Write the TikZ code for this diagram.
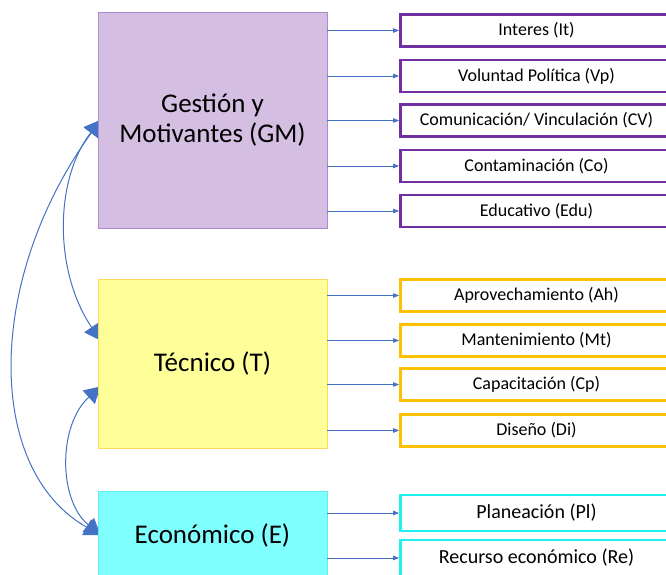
\documentclass[tikz,border=0pt]{standalone}
\usepackage{fontspec}
\setmainfont{Carlito}
\usetikzlibrary{arrows.meta}
\definecolor{conn}{HTML}{4472C4}
\definecolor{gmfill}{HTML}{D4BFE3}
\definecolor{gmline}{HTML}{B08AD0}
\definecolor{tfill}{HTML}{FFFF99}
\definecolor{tline}{HTML}{FFD85C}
\definecolor{efill}{HTML}{80FFFF}
\definecolor{eline}{HTML}{5EF0F0}
\definecolor{purp}{HTML}{7030A0}
\definecolor{oran}{HTML}{FFC000}
\definecolor{cyanb}{HTML}{20F0F0}
\pgfdeclarelayer{bg}
\pgfsetlayers{bg,main}
\begin{document}
\begin{tikzpicture}[x=1pt,y=-1pt,
  bigbox/.style={rectangle, minimum width=229pt, align=center, inner sep=0pt, line width=0.8pt,
    font=\fontsize{27}{29.5}\selectfont},
  subbox/.style={rectangle, minimum width=272pt, minimum height=32pt, line width=2.8pt, fill=white,
    inner sep=0pt, font=\fontsize{18}{21}\selectfont},
  ebox/.style={subbox, draw=cyanb, minimum height=36pt, font=\fontsize{20}{23}\selectfont},
  hconn/.style={conn, line width=0.9pt, -{Triangle[length=6pt,width=4.5pt]}},
  cconn/.style={conn, line width=1pt, {Triangle[length=16pt,width=18pt]}-{Triangle[length=16pt,width=18pt]}}
]
\useasboundingbox (0,0) rectangle (666,575);
\clip (0,0) rectangle (666,575);

% main boxes
\node[bigbox, fill=gmfill, draw=gmline, minimum height=216pt] (GM) at (212.5,120) {Gestión y\\Motivantes (GM)};
\node[bigbox, fill=tfill, draw=tline, minimum height=169pt] (T) at (212.5,363.5) {Técnico (T)};
\node[bigbox, fill=efill, draw=eline, minimum height=88pt] (E) at (212.5,535) {Económico (E)};

% purple boxes
\node[subbox, draw=purp] (It) at (536.5,30.5) {Interes (It)};
\node[subbox, draw=purp] (Vp) at (536.5,76) {Voluntad Política (Vp)};
\node[subbox, draw=purp] (CV) at (536.5,120.5) {Comunicación/ Vinculación (CV)};
\node[subbox, draw=purp] (Co) at (536.5,166) {Contaminación (Co)};
\node[subbox, draw=purp] (Edu) at (536.5,211) {Educativo (Edu)};

% orange boxes
\node[subbox, draw=oran] (Ah) at (536.5,295.5) {Aprovechamiento (Ah)};
\node[subbox, draw=oran] (Mt) at (536.5,340.5) {Mantenimiento (Mt)};
\node[subbox, draw=oran] (Cp) at (536.5,384.5) {Capacitación (Cp)};
\node[subbox, draw=oran] (Di) at (536.5,430.5) {Diseño (Di)};

% cyan boxes
\node[ebox] (Pl) at (536.5,513) {Planeación (Pl)};
\node[ebox] (Re) at (536.5,558) {Recurso económico (Re)};

% horizontal connectors
\foreach \b in {It,Vp,CV,Co,Edu}{\draw[hconn] (GM.east |- \b.west) -- (\b.west);}
\foreach \b in {Ah,Mt,Cp,Di}{\draw[hconn] (T.east |- \b.west) -- (\b.west);}
\foreach \b in {Pl,Re}{\draw[hconn] (E.east |- \b.west) -- (\b.west);}

% curved connectors behind the boxes
\begin{pgfonlayer}{bg}
\draw[cconn] ([xshift=3pt]GM.west) .. controls (-15,280) and (-15,470) .. ([xshift=3pt]E.west);
\draw[cconn] ([xshift=3pt]GM.west) .. controls (54,180) and (54,272) .. ([xshift=3pt,yshift=23pt]T.west);
\draw[cconn] ([xshift=3pt,yshift=-23pt]T.west) .. controls (58,425) and (58,500) .. ([xshift=3pt]E.west);
\end{pgfonlayer}
\end{tikzpicture}
\end{document}
